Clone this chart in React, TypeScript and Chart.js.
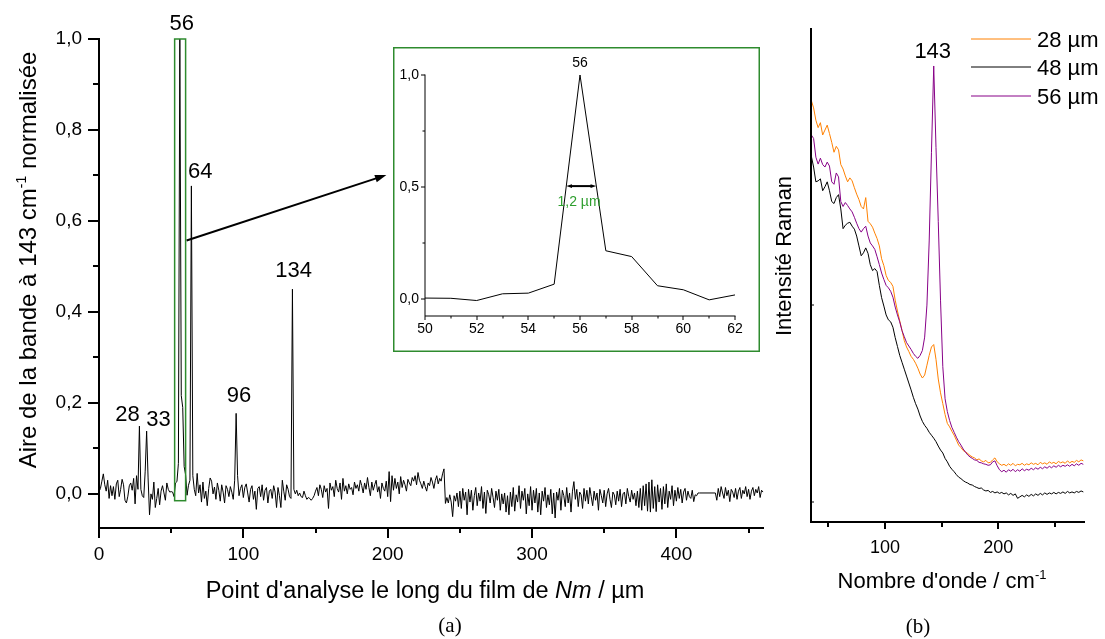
import React, { useEffect, useRef } from 'react';
import { Chart, registerables } from 'chart.js';

Chart.register(...registerables);

// ---------------- DATA ----------------
// (a) normalised area of the 143 cm-1 band, one point per µm starting at 0
const MAIN_START = 0;
const MAIN_STEP = 1;
const MAIN_VALUES: (number | null)[] = [
  0.005, 0.012, 0.028, 0.044, 0.020, 0.006, 0.030, -0.010, 0.018, -0.004,
  0.016, -0.012, 0.022, 0.030, -0.006, 0.010, 0.032, 0.020, -0.014, -0.020,
  -0.005, 0.018, 0.024, 0.008, 0.034, -0.022, 0.040, 0.010, 0.149, 0.010,
  -0.004, -0.008, 0.050, 0.138, 0.035, -0.046, 0.000, -0.012, 0.026, -0.030,
  -0.010, 0.012, -0.024, 0.006, 0.018, 0.002, -0.014, 0.024, 0.010, 0.004,
  0.005, 0.004, -0.006, 0.024, 0.027, 0.067, 1.000, 0.216, 0.190, 0.060,
  0.042, -0.003, 0.019, 0.030, 0.677, 0.040, 0.010, -0.004, 0.045, 0.002,
  0.020, -0.018, 0.026, -0.010, 0.006, -0.026, 0.012, 0.035, 0.028, 0.000,
  0.015, -0.012, 0.024, 0.008, -0.016, 0.020, 0.004, -0.020, 0.018, 0.010,
  -0.006, 0.016, 0.004, -0.012, 0.030, 0.177, 0.040, -0.004, 0.012, 0.020,
  -0.008, 0.014, 0.022, 0.002, -0.018, 0.010, 0.018, -0.012, 0.006, -0.034,
  0.012, 0.016, -0.006, 0.020, -0.014, 0.008, 0.014, -0.020, 0.006, 0.010,
  -0.010, 0.018, 0.004, -0.030, 0.014, -0.004, -0.030, 0.030, 0.006, -0.014,
  0.020, 0.010, -0.006, -0.010, 0.450, 0.010, 0.000, 0.008, -0.004, 0.002,
  -0.006, -0.008, 0.006, -0.004, -0.012, -0.008, -0.010, -0.014, -0.010, -0.004,
  0.006, 0.014, -0.004, 0.020, 0.010, -0.008, 0.018, 0.004, 0.012, -0.032,
  0.024, 0.008, 0.016, -0.006, 0.030, 0.012, 0.004, 0.024, -0.012, 0.034,
  0.006, 0.018, 0.000, 0.022, 0.010, 0.014, -0.002, 0.026, 0.012, 0.020,
  0.006, 0.030, 0.018, 0.002, 0.024, 0.010, 0.036, 0.014, -0.004, 0.026,
  0.008, 0.020, 0.030, 0.004, 0.016, -0.010, 0.024, 0.012, 0.006, 0.028,
  -0.006, 0.049, -0.017, 0.040, 0.008, 0.034, 0.012, 0.026, 0.000, 0.038,
  0.014, 0.030, 0.020, 0.006, 0.032, 0.024, 0.018, 0.036, 0.028, 0.040,
  0.020, 0.047, 0.030, 0.022, 0.012, 0.028, 0.016, 0.006, 0.024, 0.018,
  0.036, 0.026, 0.012, 0.030, 0.040, 0.022, 0.034, 0.028, 0.044, 0.055,
  -0.021, -0.008, -0.020, -0.002, -0.018, -0.050, -0.004, -0.016, 0.002, -0.028,
  0.006, -0.032, 0.012, -0.014, 0.004, -0.046, 0.010, -0.018, 0.008, -0.036,
  -0.004, 0.014, -0.026, 0.002, -0.016, 0.016, -0.032, 0.004, -0.043, 0.008,
  -0.002, -0.020, 0.012, -0.008, -0.030, 0.006, -0.014, 0.010, -0.036, 0.000,
  -0.022, 0.002, -0.040, -0.004, -0.046, 0.004, -0.028, 0.014, -0.038, -0.002,
  -0.018, 0.018, -0.032, 0.006, -0.014, 0.012, -0.044, 0.000, -0.026, 0.016,
  -0.036, 0.008, -0.020, 0.012, -0.040, 0.002, -0.046, 0.006, -0.016, 0.014,
  -0.030, -0.002, -0.024, 0.010, -0.044, 0.002, -0.053, 0.004, -0.014, 0.012,
  -0.036, 0.008, -0.004, -0.028, 0.014, -0.020, 0.002, -0.040, 0.006, 0.027,
  -0.012, 0.010, -0.028, 0.004, -0.002, -0.032, 0.012, -0.016, 0.008, -0.022,
  0.014, -0.006, -0.026, 0.006, -0.014, 0.002, -0.036, 0.010, -0.004, -0.020,
  0.008, -0.028, 0.000, 0.012, -0.012, -0.030, 0.004, -0.002, -0.024, 0.006,
  -0.016, 0.010, -0.028, 0.000, 0.004, -0.022, 0.012, -0.006, -0.018, 0.008,
  -0.012, 0.002, -0.026, 0.006, -0.030, 0.012, -0.036, 0.018, -0.026, 0.022,
  -0.038, 0.026, -0.040, 0.031, -0.032, 0.016, -0.039, 0.020, -0.018, 0.012,
  -0.034, 0.016, -0.022, 0.022, -0.030, 0.006, -0.012, 0.018, -0.026, 0.008,
  -0.016, 0.014, -0.010, 0.010, -0.020, 0.004, 0.012, -0.014, 0.006, -0.006,
  -0.010, 0.008, -0.017, -0.002, -0.004, 0.002, 0.002, null, null, null,
  null, null, null, null, null, null, null, 0.002, -0.014, 0.012,
  -0.006, 0.016, 0.002, -0.010, 0.014, -0.004, 0.008, -0.017, 0.010, 0.004,
  -0.008, 0.012, -0.012, 0.006, 0.014, -0.010, 0.008, 0.000, 0.016, -0.006,
  0.010, -0.012, 0.006, 0.014, -0.004, 0.010, 0.002, 0.016, -0.008, 0.008,
  0.004,
];

// inset: zoom on the main profile around 56 µm
const INSET_FROM = 50;
const INSET_TO = 62;

// peaks labelled on the profile (µm)
const PEAK_LABELS = ['28', '33', '56', '64', '96', '134'];

// (b) Raman spectra, wavenumber from 35 cm-1 every 2 cm-1 (arbitrary intensity)
const SPEC_START = 35;
const SPEC_STEP = 2;
const SPEC_28 = [
  85.5, 84.0, 81.5, 80.0, 81.0, 78.5, 79.5, 80.5, 78.8, 77.0,
  75.0, 76.2, 75.5, 72.5, 71.6, 70.2, 69.0, 69.8, 69.2, 67.8,
  66.5, 65.4, 64.0, 63.5, 65.8, 61.0, 60.5, 59.8, 58.6, 57.5,
  56.0, 53.4, 52.0, 50.0, 49.0, 48.6, 47.8, 45.0, 42.8, 40.8,
  38.9, 36.8, 35.5, 34.6, 33.6, 33.0, 32.2, 31.2, 30.0, 29.2,
  29.8, 31.8, 33.8, 35.5, 36.0, 33.0, 29.0, 26.2, 24.0, 21.8,
  20.0, 19.3, 18.4, 17.6, 16.6, 15.6, 15.1, 14.5, 14.2, 13.9,
  13.5, 13.2, 13.0, 12.6, 12.8, 12.4, 12.2, 12.5, 12.0, 12.1,
  12.6, 13.0, 12.2, 11.8, 11.5, 11.7, 11.4, 11.8, 11.5, 11.9,
  11.4, 11.7, 11.6, 11.9, 11.5, 11.8, 11.6, 12.0, 11.7, 11.9,
  11.6, 12.1, 11.8, 12.0, 11.7, 12.2, 11.9, 12.1, 11.8, 12.3,
  12.0, 12.2, 11.9, 12.4, 12.0, 12.3, 12.1, 12.5, 12.2, 12.6,
  12.4,
];
const SPEC_48 = [
  74.2, 72.0, 69.0, 69.2, 69.6, 67.2, 68.0, 69.0, 67.2, 65.0,
  64.6, 65.8, 66.4, 63.5, 59.5, 60.2, 60.6, 60.8, 60.0, 59.4,
  58.0, 56.0, 54.0, 54.6, 55.6, 54.5, 52.2, 51.0, 51.4, 50.8,
  48.0, 45.5, 43.8, 42.0, 41.0, 40.6, 39.5, 37.4, 35.6, 33.8,
  32.4, 31.0, 29.6, 28.2, 26.8, 25.3, 24.0, 22.9, 21.5, 20.4,
  19.6, 19.0, 18.2, 17.6, 17.0, 16.3, 15.4, 14.6, 14.0, 12.9,
  12.2, 11.3, 10.7, 10.2, 9.6, 9.1, 8.8, 8.4, 8.1, 7.9,
  7.6, 7.5, 7.2, 7.0, 6.8, 6.9, 6.5, 6.3, 6.4, 6.0,
  6.2, 5.9, 6.1, 5.8, 6.0, 5.7, 5.9, 5.5, 5.8, 5.4,
  5.7, 4.8, 5.1, 5.4, 5.1, 5.5, 5.2, 5.6, 5.3, 5.7,
  5.4, 5.8, 5.5, 5.9, 5.6, 5.9, 5.7, 6.0, 5.7, 6.0,
  5.8, 6.1, 5.8, 6.2, 5.9, 6.1, 5.9, 6.2, 6.0, 6.3,
  6.1,
];
const SPEC_56 = [
  78.5, 77.8, 74.0, 72.6, 73.8, 72.5, 72.0, 73.0, 72.2, 69.0,
  68.5, 70.8, 70.0, 65.0, 64.0, 64.8, 64.2, 63.5, 62.9, 61.8,
  60.6, 59.5, 58.8, 59.5, 60.0, 58.0, 56.6, 56.0, 55.3, 53.8,
  52.2, 50.5, 49.2, 48.0, 47.5, 46.8, 45.6, 43.6, 42.0, 40.6,
  38.8, 37.6, 36.4, 35.7, 35.0, 34.2, 33.6, 33.2, 33.8, 34.8,
  37.5, 44.0, 57.0, 75.0, 92.5, 76.0, 61.0, 45.0, 31.5, 25.0,
  22.4, 20.6, 19.2, 18.2, 17.2, 16.3, 15.6, 14.8, 14.2, 13.6,
  13.2, 12.9, 12.6, 12.5, 12.1, 12.0, 11.8, 11.7, 11.5, 11.6,
  12.2, 12.4, 11.4, 10.6, 10.2, 10.5, 10.1, 10.6, 10.3, 10.7,
  10.2, 10.6, 10.3, 10.8, 10.4, 10.7, 10.5, 10.9, 10.6, 11.0,
  10.7, 11.1, 10.8, 11.2, 10.9, 11.3, 11.0, 11.4, 11.1, 11.5,
  11.2, 11.5, 11.3, 11.6, 11.3, 11.7, 11.4, 11.8, 11.5, 11.9,
  11.7,
];
const LEGEND_LABELS = ['28 µm', '48 µm', '56 µm'];

// tick values
const A_X_MAJOR = [0, 100, 200, 300, 400];
const A_X_MINOR = [50, 150, 250, 350, 450];
const A_Y_MAJOR = [0, 0.2, 0.4, 0.6, 0.8, 1.0];
const A_Y_MINOR = [0.1, 0.3, 0.5, 0.7, 0.9];
const I_X_MAJOR = [50, 52, 54, 56, 58, 60, 62];
const I_X_MINOR = [51, 53, 55, 57, 59, 61];
const I_Y_MAJOR = [0, 0.5, 1.0];
const I_Y_MINOR = [0.25, 0.75];
const B_X_MAJOR = [100, 200];
const B_X_MINOR = [50, 150, 250];
const B_Y_TICKS = [4, 44];

// ---------------- STYLE / HELPERS ----------------
const SANS = '"Liberation Sans", Arial, Helvetica, sans-serif';
const SERIF = '"Liberation Serif", "Times New Roman", serif';
const GREEN = '#2E8B2E';
const ORANGE = '#FF8000';
const PURPLE = '#870087';

type Part = { t: string; size: number; italic?: boolean; rise?: number; color?: string; family?: string };

function fontOf(p: Part) {
  return `${p.italic ? 'italic ' : ''}${p.size}px ${p.family || SANS}`;
}

function drawRich(ctx: CanvasRenderingContext2D, parts: Part[], x: number, y: number, align: 'left' | 'center' | 'right') {
  let w = 0;
  for (const p of parts) {
    ctx.font = fontOf(p);
    w += ctx.measureText(p.t).width;
  }
  let cx = align === 'center' ? x - w / 2 : align === 'right' ? x - w : x;
  ctx.textAlign = 'left';
  ctx.textBaseline = 'alphabetic';
  for (const p of parts) {
    ctx.font = fontOf(p);
    ctx.fillStyle = p.color || '#000';
    ctx.fillText(p.t, cx, y - (p.rise || 0));
    cx += ctx.measureText(p.t).width;
  }
}

function drawRichRotated(ctx: CanvasRenderingContext2D, parts: Part[], baselineX: number, centerY: number) {
  ctx.save();
  ctx.translate(baselineX, centerY);
  ctx.rotate(-Math.PI / 2);
  drawRich(ctx, parts, 0, 0, 'center');
  ctx.restore();
}

function axisLines(ctx: CanvasRenderingContext2D, a: any, lw: number) {
  ctx.save();
  ctx.strokeStyle = '#000';
  ctx.lineWidth = lw;
  ctx.lineCap = 'square';
  ctx.beginPath();
  ctx.moveTo(a.left, a.top);
  ctx.lineTo(a.left, a.bottom);
  ctx.lineTo(a.right, a.bottom);
  ctx.stroke();
  ctx.restore();
}

function tickMarks(ctx: CanvasRenderingContext2D, scale: any, values: number[], len: number, side: 'down' | 'left' | 'right', lw: number) {
  const a = scale.chart.chartArea;
  ctx.save();
  ctx.strokeStyle = '#000';
  ctx.lineWidth = lw;
  ctx.beginPath();
  for (const v of values) {
    const p = Math.round(scale.getPixelForValue(v));
    if (side === 'down') {
      ctx.moveTo(p, a.bottom);
      ctx.lineTo(p, a.bottom + len);
    } else if (side === 'left') {
      ctx.moveTo(a.left, p);
      ctx.lineTo(a.left - len, p);
    } else {
      ctx.moveTo(a.left, p);
      ctx.lineTo(a.left + len, p);
    }
  }
  ctx.stroke();
  ctx.restore();
}

function arrowHead(ctx: CanvasRenderingContext2D, x: number, y: number, dir: number, len: number, half: number) {
  ctx.beginPath();
  ctx.moveTo(x, y);
  ctx.lineTo(x - len * Math.cos(dir - half), y - len * Math.sin(dir - half));
  ctx.lineTo(x - len * Math.cos(dir + half), y - len * Math.sin(dir + half));
  ctx.closePath();
  ctx.fill();
}

function arrow(ctx: CanvasRenderingContext2D, x1: number, y1: number, x2: number, y2: number, lw: number, head: number, both: boolean) {
  const ang = Math.atan2(y2 - y1, x2 - x1);
  ctx.save();
  ctx.strokeStyle = '#000';
  ctx.fillStyle = '#000';
  ctx.lineWidth = lw;
  ctx.beginPath();
  ctx.moveTo(x1 + (both ? head * 0.7 * Math.cos(ang) : 0), y1 + (both ? head * 0.7 * Math.sin(ang) : 0));
  ctx.lineTo(x2 - head * 0.7 * Math.cos(ang), y2 - head * 0.7 * Math.sin(ang));
  ctx.stroke();
  arrowHead(ctx, x2, y2, ang, head, 0.32);
  if (both) arrowHead(ctx, x1, y1, ang + Math.PI, head, 0.32);
  ctx.restore();
}

const comma = (v: number) => Number(v).toFixed(1).replace('.', ',');

// ---------------- PLUGINS ----------------
const annA = {
  id: 'annA',
  afterDraw(chart: any) {
    const ctx: CanvasRenderingContext2D = chart.ctx;
    const xs = chart.scales.x;
    const ys = chart.scales.y;
    const a = chart.chartArea;
    ctx.save();
    // zoom window
    ctx.strokeStyle = GREEN;
    ctx.lineWidth = 1.5;
    const gx1 = xs.getPixelForValue(52.4);
    const gx2 = xs.getPixelForValue(60.0);
    const gy1 = ys.getPixelForValue(1.0);
    const gy2 = ys.getPixelForValue(-0.015);
    ctx.strokeRect(gx1, gy1, gx2 - gx1, gy2 - gy1);

    axisLines(ctx, a, 2);
    tickMarks(ctx, xs, A_X_MAJOR, 10, 'down', 2);
    tickMarks(ctx, xs, A_X_MINOR, 5, 'down', 2);
    tickMarks(ctx, ys, A_Y_MAJOR, 11, 'left', 2);
    tickMarks(ctx, ys, A_Y_MINOR, 6, 'left', 2);

    // arrow to the inset
    arrow(ctx, xs.getPixelForValue(60.7), ys.getPixelForValue(0.557), xs.getPixelForValue(199.1), ys.getPixelForValue(0.701), 2, 12, false);

    // peak labels (label centre x, baseline y in data units)
    const pos: Record<string, [number, number]> = {
      '28': [19.7, 0.160],
      '33': [41.2, 0.149],
      '56': [57.4, 1.020],
      '64': [70.2, 0.694],
      '96': [97.0, 0.202],
      '134': [134.9, 0.477],
    };
    for (const t of PEAK_LABELS) {
      const [px, py] = pos[t];
      drawRich(ctx, [{ t, size: 22 }], xs.getPixelForValue(px), ys.getPixelForValue(py), 'center');
    }

    // axis titles
    drawRichRotated(ctx, [
      { t: 'Aire de la bande à 143 cm', size: 24 },
      { t: '-1', size: 14, rise: 10 },
      { t: ' normalisée', size: 24 },
    ], 36, 260);
    drawRich(ctx, [
      { t: "Point d'analyse le long du film de ", size: 23.5 },
      { t: 'Nm', size: 23.5, italic: true },
      { t: ' / µm', size: 23.5 },
    ], 425, 598, 'center');
    drawRich(ctx, [{ t: '(a)', size: 21, family: SERIF }], 450, 632, 'center');
    ctx.restore();
  },
};

const annI = {
  id: 'annI',
  afterDraw(chart: any) {
    const ctx: CanvasRenderingContext2D = chart.ctx;
    const xs = chart.scales.x;
    const ys = chart.scales.y;
    const a = chart.chartArea;
    ctx.save();
    ctx.strokeStyle = GREEN;
    ctx.lineWidth = 1.5;
    ctx.strokeRect(0.75, 0.75, chart.width - 1.5, chart.height - 1.5);
    axisLines(ctx, a, 1);
    tickMarks(ctx, xs, I_X_MAJOR, 4, 'down', 1);
    tickMarks(ctx, xs, I_X_MINOR, 2.5, 'down', 1);
    tickMarks(ctx, ys, I_Y_MAJOR, 4, 'left', 1);
    tickMarks(ctx, ys, I_Y_MINOR, 2.5, 'left', 1);
    drawRich(ctx, [{ t: '56', size: 14 }], xs.getPixelForValue(56), ys.getPixelForValue(1.0) - 8, 'center');
    const yh = ys.getPixelForValue(0.5) - 1;
    arrow(ctx, xs.getPixelForValue(55.47), yh, xs.getPixelForValue(56.63), yh, 2, 6, true);
    drawRich(ctx, [{ t: '1,2 µm', size: 14, color: '#2E9E2E' }], xs.getPixelForValue(56.0) - 1, yh + 20, 'center');
    ctx.restore();
  },
};

const annB = {
  id: 'annB',
  afterDraw(chart: any) {
    const ctx: CanvasRenderingContext2D = chart.ctx;
    const xs = chart.scales.x;
    const ys = chart.scales.y;
    const a = chart.chartArea;
    ctx.save();
    axisLines(ctx, a, 2);
    tickMarks(ctx, xs, B_X_MAJOR, 7, 'down', 2);
    tickMarks(ctx, xs, B_X_MINOR, 5, 'down', 2);
    tickMarks(ctx, ys, B_Y_TICKS, 3, 'right', 1);

    drawRich(ctx, [{ t: '143', size: 22 }], xs.getPixelForValue(143) - 1, ys.getPixelForValue(92.5) - 8, 'center');

    // legend
    const colors = [ORANGE, '#000', PURPLE];
    const rows = [39, 67, 96];
    LEGEND_LABELS.forEach((lab, i) => {
      ctx.strokeStyle = colors[i];
      ctx.lineWidth = 1;
      ctx.beginPath();
      ctx.moveTo(206, rows[i]);
      ctx.lineTo(266, rows[i]);
      ctx.stroke();
      drawRich(ctx, [{ t: lab, size: 22 }], 272, rows[i] + 8, 'left');
    });

    drawRichRotated(ctx, [{ t: 'Intensité Raman', size: 22 }], 26, 256);
    drawRich(ctx, [
      { t: "Nombre d'onde / cm", size: 22 },
      { t: '-1', size: 13, rise: 9 },
    ], 177, 588, 'center');
    drawRich(ctx, [{ t: '(b)', size: 21, family: SERIF }], 153, 633, 'center');
    ctx.restore();
  },
};

// ---------------- CONFIGS ----------------
function noGrid(tickLength: number) {
  return { display: false, drawTicks: true, tickLength };
}

function configA(): any {
  const pts = MAIN_VALUES.map((v, i) => ({ x: MAIN_START + i * MAIN_STEP, y: v }));
  return {
    type: 'line',
    data: {
      datasets: [{
        data: pts, borderColor: '#000', borderWidth: 1, pointRadius: 0,
        spanGaps: true, tension: 0, clip: false,
      }],
    },
    options: {
      responsive: false, animation: false, devicePixelRatio: 1,
      layout: { padding: { top: 39, right: 7, left: 0, bottom: 0 } },
      plugins: { legend: { display: false }, tooltip: { enabled: false } },
      scales: {
        x: {
          type: 'linear', min: 0, max: 460,
          grid: noGrid(10), border: { display: false },
          ticks: { font: { family: SANS, size: 19 }, color: '#000', padding: 5, maxRotation: 0, autoSkip: false },
          afterBuildTicks: (s: any) => { s.ticks = A_X_MAJOR.map((value) => ({ value })); },
          afterFit: (s: any) => { s.height = 111; },
        },
        y: {
          type: 'linear', min: -0.075, max: 1.0,
          grid: noGrid(11), border: { display: false },
          ticks: { font: { family: SANS, size: 19 }, color: '#000', padding: 6, autoSkip: false, callback: (v: any) => comma(v) },
          afterBuildTicks: (s: any) => { s.ticks = A_Y_MAJOR.map((value) => ({ value })); },
          afterFit: (s: any) => { s.width = 99; },
        },
      },
    },
    plugins: [annA],
  };
}

function configI(): any {
  const pts = MAIN_VALUES.slice(INSET_FROM - MAIN_START, INSET_TO - MAIN_START + 1)
    .map((v, i) => ({ x: INSET_FROM + i, y: v }));
  return {
    type: 'line',
    data: {
      datasets: [{ data: pts, borderColor: '#000', borderWidth: 1, pointRadius: 0, tension: 0, clip: false }],
    },
    options: {
      responsive: false, animation: false, devicePixelRatio: 1,
      layout: { padding: { top: 28, right: 25, left: 0, bottom: 0 } },
      plugins: { legend: { display: false }, tooltip: { enabled: false } },
      scales: {
        x: {
          type: 'linear', min: INSET_FROM, max: INSET_TO,
          grid: noGrid(4), border: { display: false },
          ticks: { font: { family: SANS, size: 14 }, color: '#000', padding: 1, maxRotation: 0, autoSkip: false },
          afterBuildTicks: (s: any) => { s.ticks = I_X_MAJOR.map((value) => ({ value })); },
          afterFit: (s: any) => { s.height = 36; },
        },
        y: {
          type: 'linear', min: -0.075, max: 1.0,
          grid: noGrid(4), border: { display: false },
          ticks: { font: { family: SANS, size: 14 }, color: '#000', padding: 2, autoSkip: false, callback: (v: any) => comma(v) },
          afterBuildTicks: (s: any) => { s.ticks = I_Y_MAJOR.map((value) => ({ value })); },
          afterFit: (s: any) => { s.width = 32; },
        },
      },
    },
    plugins: [annI],
  };
}

function configB(): any {
  const mk = (arr: number[]) => arr.map((v, i) => ({ x: SPEC_START + i * SPEC_STEP, y: v }));
  const ds = (arr: number[], color: string, label: string) => ({
    label, data: mk(arr), borderColor: color, borderWidth: 1, pointRadius: 0, tension: 0, clip: false,
  });
  return {
    type: 'line',
    data: {
      datasets: [
        ds(SPEC_56, PURPLE, LEGEND_LABELS[2]),
        ds(SPEC_28, ORANGE, LEGEND_LABELS[0]),
        ds(SPEC_48, '#000', LEGEND_LABELS[1]),
      ],
    },
    options: {
      responsive: false, animation: false, devicePixelRatio: 1,
      layout: { padding: { top: 29, right: 21, left: 0, bottom: 0 } },
      plugins: { legend: { display: false }, tooltip: { enabled: false } },
      scales: {
        x: {
          type: 'linear', min: 34.7, max: 275.6,
          grid: noGrid(7), border: { display: false },
          ticks: { font: { family: SANS, size: 18 }, color: '#000', padding: 8, maxRotation: 0, autoSkip: false },
          afterBuildTicks: (s: any) => { s.ticks = B_X_MAJOR.map((value) => ({ value })); },
          afterFit: (s: any) => { s.height = 117; },
        },
        y: {
          type: 'linear', min: 0, max: 100,
          grid: noGrid(0), border: { display: false },
          ticks: { display: false },
          afterFit: (s: any) => { s.width = 46; },
        },
      },
    },
    plugins: [annB],
  };
}

// ---------------- COMPONENT ----------------
export default function App() {
  const refA = useRef<HTMLCanvasElement>(null);
  const refI = useRef<HTMLCanvasElement>(null);
  const refB = useRef<HTMLCanvasElement>(null);

  useEffect(() => {
    const charts = [
      new Chart(refA.current as HTMLCanvasElement, configA()),
      new Chart(refB.current as HTMLCanvasElement, configB()),
      new Chart(refI.current as HTMLCanvasElement, configI()),
    ];
    return () => charts.forEach((c) => c.destroy());
  }, []);

  return (
    <div style={{ position: 'absolute', left: 0, top: 0, width: 1105, height: 639, background: '#fff', overflow: 'hidden' }}>
      <canvas ref={refA} width={770} height={639}
        style={{ position: 'absolute', left: 0, top: 0, width: 770, height: 639, display: 'block' }} />
      <canvas ref={refB} width={340} height={639}
        style={{ position: 'absolute', left: 765, top: 0, width: 340, height: 639, display: 'block' }} />
      <div style={{ position: 'absolute', left: 393, top: 47, width: 367, height: 305, background: '#fff' }}>
        <canvas ref={refI} width={367} height={305}
          style={{ width: 367, height: 305, display: 'block' }} />
      </div>
    </div>
  );
}
